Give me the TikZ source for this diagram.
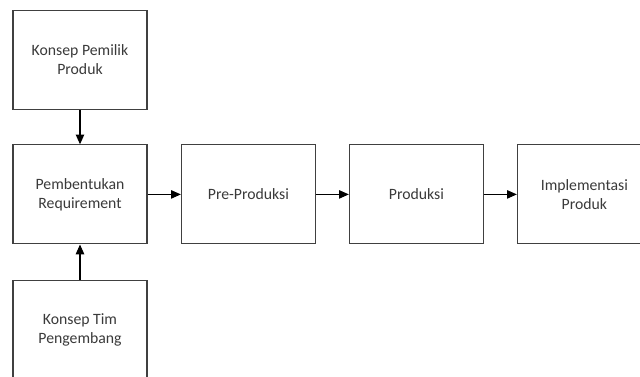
\documentclass[tikz,border=0pt]{standalone}
\usepackage{fontspec}
\setmainfont{Carlito}
\usepackage{tikz}
\usetikzlibrary{%
  arrows.meta,%
  calc%
}
\definecolor{boxline}{HTML}{404040}
\definecolor{boxtext}{HTML}{3A3A3A}
\tikzset{
  tahap/.style={draw=boxline,line width=0.8pt,fill=white,text=boxtext,
    minimum width=3.35cm,minimum height=2.475cm,align=center,
    font=\fontsize{11.2}{13.5}\selectfont},
  alur/.style={draw=black,line width=0.8pt,-{Triangle[length=7pt,width=6pt]}}
}

\begin{document}
\begin{tikzpicture}
\clip (0,0) rectangle (16,-9.4);
\fill[white] (0,0) rectangle (16,-9.4);
\node[tahap] (pemilik) at (2.0,-1.49) {Konsep Pemilik\\Produk};
\node[tahap] (req) at (2.0,-4.86) {Pembentukan\\Requirement};
\node[tahap] (tim) at (2.0,-8.25) {Konsep Tim\\Pengembang};
\node[tahap] (pre) at (6.21,-4.86) {Pre-Produksi};
\node[tahap] (prod) at (10.41,-4.86) {Produksi};
\node[tahap] (impl) at (14.61,-4.86) {Implementasi\\Produk};
\draw [alur] (pemilik) -- (req);
\draw [alur] (tim) -- (req);
\draw [alur] (req) -- (pre);
\draw [alur] (pre) -- (prod);
\draw [alur] (prod) -- (impl);
\end{tikzpicture}
\end{document}
